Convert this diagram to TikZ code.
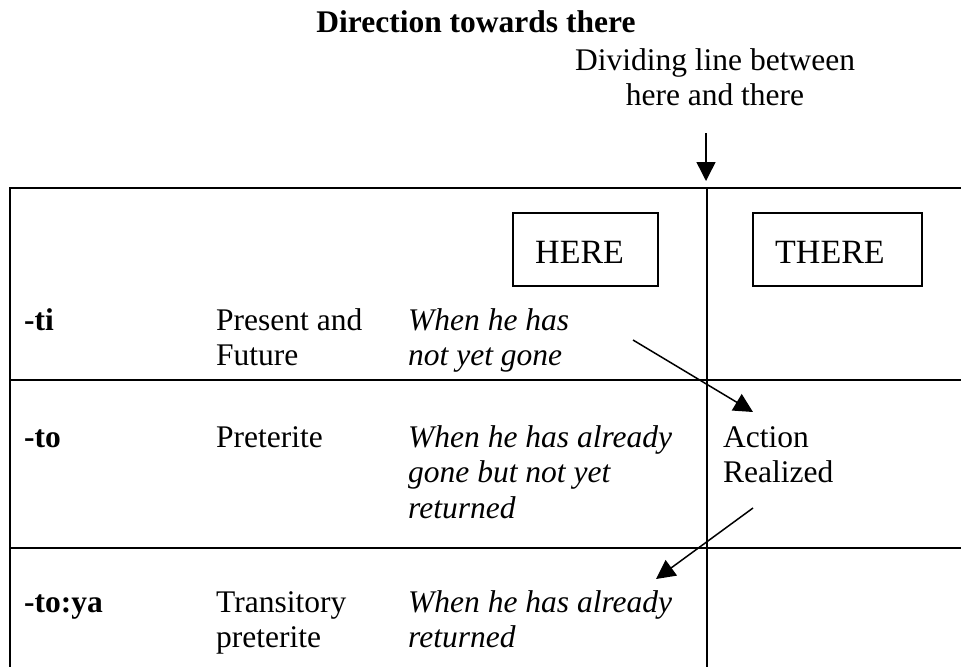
\documentclass[tikz,border=0pt]{standalone}
\usepackage{fontspec}
\setmainfont{Liberation Serif}
\usetikzlibrary{arrows.meta}
\tikzset{
  txt/.style={inner sep=0pt, anchor=base west, align=left, font=\fontsize{31.5}{35.5}\selectfont},
  bld/.style={txt, font=\fontsize{31.5}{35.5}\selectfont\bfseries},
  itl/.style={txt, font=\fontsize{31.5}{35.5}\selectfont\itshape},
  ctr/.style={inner sep=0pt, anchor=base, align=center, font=\fontsize{31.5}{35.5}\selectfont},
  tline/.style={line width=2pt},
  boxl/.style={line width=1.6pt},
  arr/.style={line width=1.5pt, -{Triangle[length=19pt,width=19pt]}},
  boxtxt/.style={inner sep=0pt, anchor=base west, font=\fontsize{34}{38}\selectfont}
}
\begin{document}
\begin{tikzpicture}[x=1pt,y=-1pt]
\useasboundingbox (0,0) rectangle (961,667);
% title texts (multi-line nodes: base = last line)
\node[ctr, font=\fontsize{31.5}{35.5}\selectfont\bfseries] (title) at (476,32) {Direction towards there};
\node[ctr] (divlbl) at (715,105.5) {Dividing line between\\here and there};
% arrow to dividing line
\coordinate (dstart) at (706,133);
\coordinate (dend) at (706,181);
\draw[arr] (dstart) -- (dend);
% table lines
\coordinate (tl) at (10,188);
\coordinate (tr) at (961,188);
\coordinate (bl) at (10,667);
\coordinate (dt) at (707,188);
\coordinate (db) at (707,667);
\draw[tline] (tr) -- (tl) -- (bl);
\draw[tline] (dt) -- (db);
\draw[tline] (10,380) -- (961,380);
\draw[tline] (10,548) -- (961,548);
% HERE / THERE boxes
\draw[boxl] (513,213) rectangle (658,286);
\node[boxtxt] (here) at (535,263) {HERE};
\draw[boxl] (753,213) rectangle (922,286);
\node[boxtxt] (there) at (775,263) {THERE};
% row 1
\node[bld] (ti) at (24,330) {-ti};
\node[txt] (pf) at (216,365.5) {Present and\\Future};
\node[itl] (w1) at (408,365.5) {When he has\\not yet gone};
% row 2
\node[bld] (to) at (24,447) {-to};
\node[txt] (pre) at (216,447) {Preterite};
\node[itl] (w2) at (408,518) {When he has already\\gone but not yet\\returned};
\node[txt] (act) at (723,482.5) {Action\\Realized};
% row 3
\node[bld] (toya) at (24,612) {-to:ya};
\node[txt] (tp) at (216,647.5) {Transitory\\preterite};
\node[itl] (w3) at (408,647.5) {When he has already\\returned};
% arrows
\coordinate (a1s) at (633,340);
\coordinate (a1e) at (753,412);
\draw[arr] (a1s) -- (a1e);
\coordinate (a2s) at (753,508);
\coordinate (a2e) at (656,579);
\draw[arr] (a2s) -- (a2e);
\end{tikzpicture}
\end{document}
